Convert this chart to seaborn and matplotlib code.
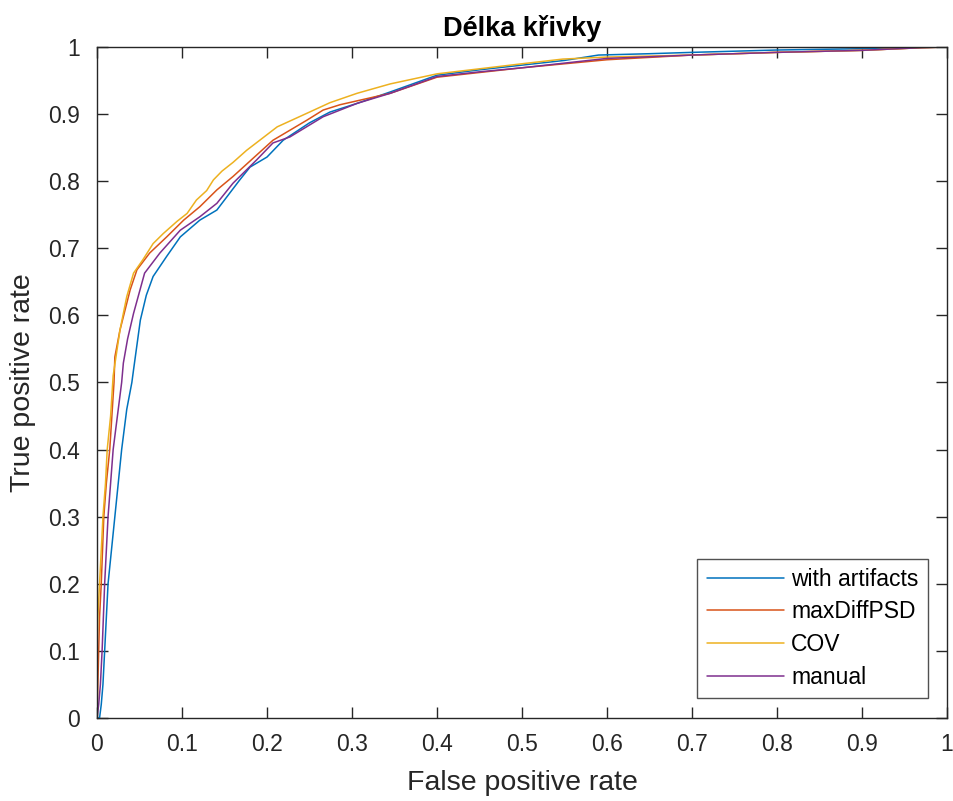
import numpy as np
import pandas as pd
import matplotlib
matplotlib.use("Agg")
import matplotlib.pyplot as plt
import seaborn as sns

# ---- data ----
series_names = ["with artifacts", "maxDiffPSD", "COV", "manual"]

fpr_artifacts = [0, 0.003, 0.005, 0.007, 0.009, 0.013, 0.017, 0.021, 0.025, 0.029, 0.035, 0.041,
                 0.043, 0.051, 0.058, 0.066, 0.082, 0.098, 0.121, 0.141, 0.153, 0.168, 0.180,
                 0.200, 0.219, 0.250, 0.274, 0.306, 0.345, 0.400, 0.450, 0.500, 0.550, 0.590,
                 0.650, 0.700, 0.800, 0.900, 0.983, 1.0]
tpr_artifacts = [0, 0, 0.02, 0.05, 0.10, 0.20, 0.25, 0.30, 0.35, 0.40, 0.46, 0.50,
                 0.519, 0.593, 0.630, 0.658, 0.688, 0.717, 0.742, 0.757, 0.777, 0.802, 0.821,
                 0.836, 0.861, 0.887, 0.903, 0.916, 0.933, 0.958, 0.966, 0.973, 0.980, 0.988,
                 0.990, 0.992, 0.9955, 0.9975, 1.0, 1.0]

fpr_maxdiff = [0, 0.001, 0.002, 0.003, 0.005, 0.008, 0.011, 0.015, 0.020, 0.021, 0.027, 0.039,
               0.047, 0.062, 0.082, 0.102, 0.121, 0.141, 0.160, 0.180, 0.207, 0.227, 0.247,
               0.266, 0.286, 0.345, 0.400, 0.450, 0.500, 0.550, 0.600, 0.700, 0.800, 0.900,
               0.970, 1.0]
tpr_maxdiff = [0, 0.05, 0.10, 0.15, 0.20, 0.30, 0.35, 0.40, 0.50, 0.538, 0.578, 0.638,
               0.668, 0.693, 0.717, 0.742, 0.762, 0.787, 0.807, 0.830, 0.861, 0.876, 0.891,
               0.906, 0.914, 0.931, 0.955, 0.962, 0.969, 0.975, 0.981, 0.988, 0.992, 0.995,
               0.999, 1.0]

fpr_cov = [0, 0.0, 0.001, 0.003, 0.005, 0.007, 0.010, 0.012, 0.016, 0.019, 0.027, 0.035,
           0.043, 0.054, 0.066, 0.078, 0.094, 0.106, 0.117, 0.129, 0.137, 0.147, 0.160,
           0.176, 0.212, 0.250, 0.274, 0.306, 0.345, 0.400, 0.500, 0.548, 0.600, 0.700,
           0.800, 0.900, 0.970, 1.0]
tpr_cov = [0, 0.10, 0.15, 0.20, 0.25, 0.30, 0.35, 0.40, 0.45, 0.51, 0.578, 0.628,
           0.663, 0.683, 0.707, 0.722, 0.740, 0.752, 0.772, 0.786, 0.802, 0.815, 0.828,
           0.846, 0.881, 0.903, 0.917, 0.931, 0.945, 0.960, 0.975, 0.982, 0.985, 0.988,
           0.992, 0.995, 0.999, 1.0]

fpr_manual = [0, 0.002, 0.004, 0.006, 0.009, 0.013, 0.016, 0.019, 0.024, 0.029, 0.031, 0.036,
              0.043, 0.056, 0.074, 0.098, 0.121, 0.141, 0.160, 0.176, 0.188, 0.207, 0.227,
              0.266, 0.306, 0.345, 0.400, 0.450, 0.500, 0.550, 0.600, 0.700, 0.800, 0.900,
              0.970, 1.0]
tpr_manual = [0, 0.02, 0.05, 0.10, 0.20, 0.30, 0.35, 0.40, 0.45, 0.50, 0.529, 0.565,
              0.603, 0.663, 0.693, 0.727, 0.747, 0.767, 0.797, 0.817, 0.832, 0.857, 0.866,
              0.896, 0.916, 0.931, 0.956, 0.963, 0.969, 0.976, 0.983, 0.988, 0.992, 0.995,
              0.999, 1.0]

tick_values = [0, 0.1, 0.2, 0.3, 0.4, 0.5, 0.6, 0.7, 0.8, 0.9, 1]
tick_labels = ["0", "0.1", "0.2", "0.3", "0.4", "0.5", "0.6", "0.7", "0.8", "0.9", "1"]

colors = ["#0072BD", "#D95319", "#EDB120", "#7E2F8E"]

# ---- build long-form table ----
frames = []
for name, fx, ty in zip(series_names,
                        [fpr_artifacts, fpr_maxdiff, fpr_cov, fpr_manual],
                        [tpr_artifacts, tpr_maxdiff, tpr_cov, tpr_manual]):
    frames.append(pd.DataFrame({"fpr": fx, "tpr": ty, "series": name}))
df = pd.concat(frames, ignore_index=True)

sns.set_style("white")
plt.rcParams["font.family"] = ["Liberation Sans", "DejaVu Sans"]

fig = plt.figure(figsize=(9.54, 8.01), dpi=100)
ax = fig.add_axes([97 / 954, 1 - 718 / 801, 850 / 954, 671 / 801])

sns.lineplot(data=df, x="fpr", y="tpr", hue="series", hue_order=series_names,
             palette=colors, sort=False, estimator=None, units="series",
             linewidth=1.1, ax=ax)

ax.set_xlim(0, 1)
ax.set_ylim(0, 1)
ax.set_xticks(tick_values)
ax.set_xticklabels(tick_labels)
ax.set_yticks(tick_values)
ax.set_yticklabels(tick_labels)

axis_col = "#262626"
for sp in ax.spines.values():
    sp.set_visible(True)
    sp.set_color(axis_col)
    sp.set_linewidth(1.0)
ax.tick_params(axis="both", which="both", direction="in", length=8, width=1.0,
               top=True, right=True, bottom=True, left=True,
               colors=axis_col, labelsize=16.5, labelcolor=axis_col)
ax.tick_params(axis="x", pad=11)
ax.tick_params(axis="y", pad=12)

ax.set_xlabel("False positive rate", fontsize=20.5, color=axis_col, labelpad=10)
ax.set_ylabel("True positive rate", fontsize=20.5, color=axis_col, labelpad=9)
ax.set_title("Délka křivky", fontsize=19.5, fontweight="bold", color="black", pad=8)

handles, labels = ax.get_legend_handles_labels()
leg = ax.legend(handles, labels, loc="lower right", bbox_to_anchor=(0.9775, 0.030),
                fontsize=16.5, frameon=True, fancybox=False, handlelength=3.4,
                handletextpad=0.3, borderpad=0.4, labelspacing=0.42,
                borderaxespad=0.0)
leg.get_frame().set_edgecolor(axis_col)
leg.get_frame().set_linewidth(1.0)
for t in leg.get_texts():
    t.set_color("black")

fig.savefig("out.png", dpi=100, facecolor="white")
